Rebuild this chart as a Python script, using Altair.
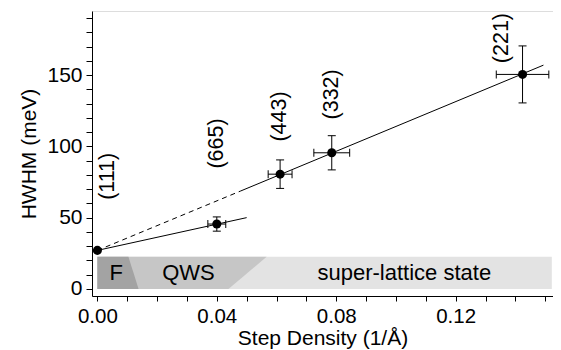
import altair as alt
import pandas as pd

# ---- data ----
labels = ["(111)", "(665)", "(443)", "(332)", "(221)"]
step_density = [0.0, 0.0400, 0.0612, 0.0785, 0.1424]
hwhm = [27.0, 45.5, 80.5, 95.5, 150.5]
hwhm_err = [0.0, 5.0, 10.0, 12.0, 20.0]
density_err = [0.0, 0.0030, 0.0040, 0.0060, 0.0088]
label_x = [0.0036, 0.0402, 0.0612, 0.0787, 0.1355]
label_y = [79.0, 102.0, 121.0, 136.5, 176.0]

fit_low_x = [0.0, 0.050]
fit_low_y = [27.0, 50.0]
fit_dash_x = [0.0, 0.048]
fit_dash_y = [27.0, 68.7]
fit_high_x = [0.048, 0.1494]
fit_high_y = [68.7, 157.0]

band_names = ["super-lattice state", "QWS", "F"]
band_bottom = 0.0
band_top = 22.5
band_right_bottom = [0.1522, 0.0439, 0.0138]
band_right_top = [0.1522, 0.0567, 0.0104]
band_label_x = [0.1028, 0.0305, 0.0063]
band_label_y = [11.0, 11.0, 11.0]
band_colors = ["#e3e3e3", "#c6c6c6", "#a3a3a3"]

x_ticks = [i / 100 for i in range(0, 16)]
y_ticks = list(range(0, 191, 10))

FONT = "Liberation Sans"

# ---- shared encodings ----
x_axis = alt.Axis(
    title="Step Density (1/Å)", values=x_ticks,
    labelExpr="round(datum.value*100) % 4 == 0 ? format(datum.value, '.2f') : ''",
    tickSize=5, labelPadding=5, labelFontSize=20.5, titleFontSize=21,
    titleFontWeight="normal", labelFont=FONT, titleFont=FONT, grid=False,
    domainColor="black", tickColor="black", labelColor="black", titleColor="black",
    labelOverlap=False, labelFlush=False, titleBaseline="alphabetic", titleY=48,
)
y_axis = alt.Axis(
    title="HWHM (meV)", values=y_ticks,
    labelExpr="datum.value % 50 == 0 ? datum.label : ''",
    tickSize=6, labelPadding=4, labelFontSize=21, titleFontSize=21,
    titleFontWeight="normal", labelFont=FONT, titleFont=FONT, grid=False,
    domainColor="black", tickColor="black", labelColor="black", titleColor="black",
    labelOverlap=False, labelFlush=False, titleBaseline="alphabetic", titleX=-57,
)
x_scale = alt.Scale(domain=[-0.0018, 0.1526], nice=False, zero=False)
y_scale = alt.Scale(domain=[-5, 195], nice=False, zero=False)


def X(field):
    return alt.X(field, type="quantitative", scale=x_scale, axis=x_axis)


def Y(field):
    return alt.Y(field, type="quantitative", scale=y_scale, axis=y_axis)


layers = []

# ---- regime bands ----
for name, rb, rt, col in zip(band_names, band_right_bottom, band_right_top, band_colors):
    bdf = pd.DataFrame({"y": [band_bottom, band_top], "x0": [0.0, 0.0], "x1": [rb, rt]})
    layers.append(
        alt.Chart(bdf).mark_area(orient="horizontal", color=col, opacity=1)
        .encode(y=Y("y"), x=X("x0"), x2="x1")
    )

band_text = pd.DataFrame({"t": band_names, "x": band_label_x, "y": band_label_y})
layers.append(
    alt.Chart(band_text).mark_text(fontSize=22, font=FONT, color="black",
                                   align="center", baseline="middle")
    .encode(x=X("x"), y=Y("y"), text="t:N")
)

# ---- fit lines ----
for xs, ys, dash in [(fit_low_x, fit_low_y, None), (fit_dash_x, fit_dash_y, [5, 4]),
                     (fit_high_x, fit_high_y, None)]:
    ldf = pd.DataFrame({"x": xs, "y": ys})
    kw = dict(color="black", strokeWidth=1)
    if dash:
        kw["strokeDash"] = dash
    layers.append(alt.Chart(ldf).mark_line(**kw).encode(x=X("x"), y=Y("y")))

# ---- points with error bars ----
df = pd.DataFrame({
    "lab": labels, "x": step_density, "y": hwhm,
    "ylo": [v - e for v, e in zip(hwhm, hwhm_err)],
    "yhi": [v + e for v, e in zip(hwhm, hwhm_err)],
    "xlo": [v - e for v, e in zip(step_density, density_err)],
    "xhi": [v + e for v, e in zip(step_density, density_err)],
    "lx": label_x, "ly": label_y,
})
err = alt.Chart(df).transform_filter("datum.yhi > datum.ylo")
layers.append(err.mark_rule(color="black", strokeWidth=1).encode(x=X("x"), y=Y("ylo"), y2="yhi"))
layers.append(err.mark_rule(color="black", strokeWidth=1).encode(y=Y("y"), x=X("xlo"), x2="xhi"))
for f in ["ylo", "yhi"]:
    layers.append(err.mark_tick(orient="horizontal", size=8, thickness=1, color="black", opacity=1)
                  .encode(x=X("x"), y=Y(f)))
for f in ["xlo", "xhi"]:
    layers.append(err.mark_tick(orient="vertical", size=8, thickness=1, color="black", opacity=1)
                  .encode(x=X(f), y=Y("y")))

layers.append(alt.Chart(df).mark_circle(size=82, color="black", opacity=1)
              .encode(x=X("x"), y=Y("y")))

layers.append(
    alt.Chart(df).mark_text(angle=270, fontSize=21.5, font=FONT, color="black",
                            align="center", baseline="middle")
    .encode(x=X("lx"), y=Y("ly"), text="lab:N")
)

chart = (
    alt.layer(*layers)
    .properties(width=461, height=285,
                autosize=alt.AutoSizeParams(type="none"),
                padding={"left": 84, "top": 3, "right": 0, "bottom": 54})
    .configure_view(stroke="black", strokeWidth=1)
    .configure(background="white")
)

chart.save("out.html", embed_options={"renderer": "svg", "actions": False})
